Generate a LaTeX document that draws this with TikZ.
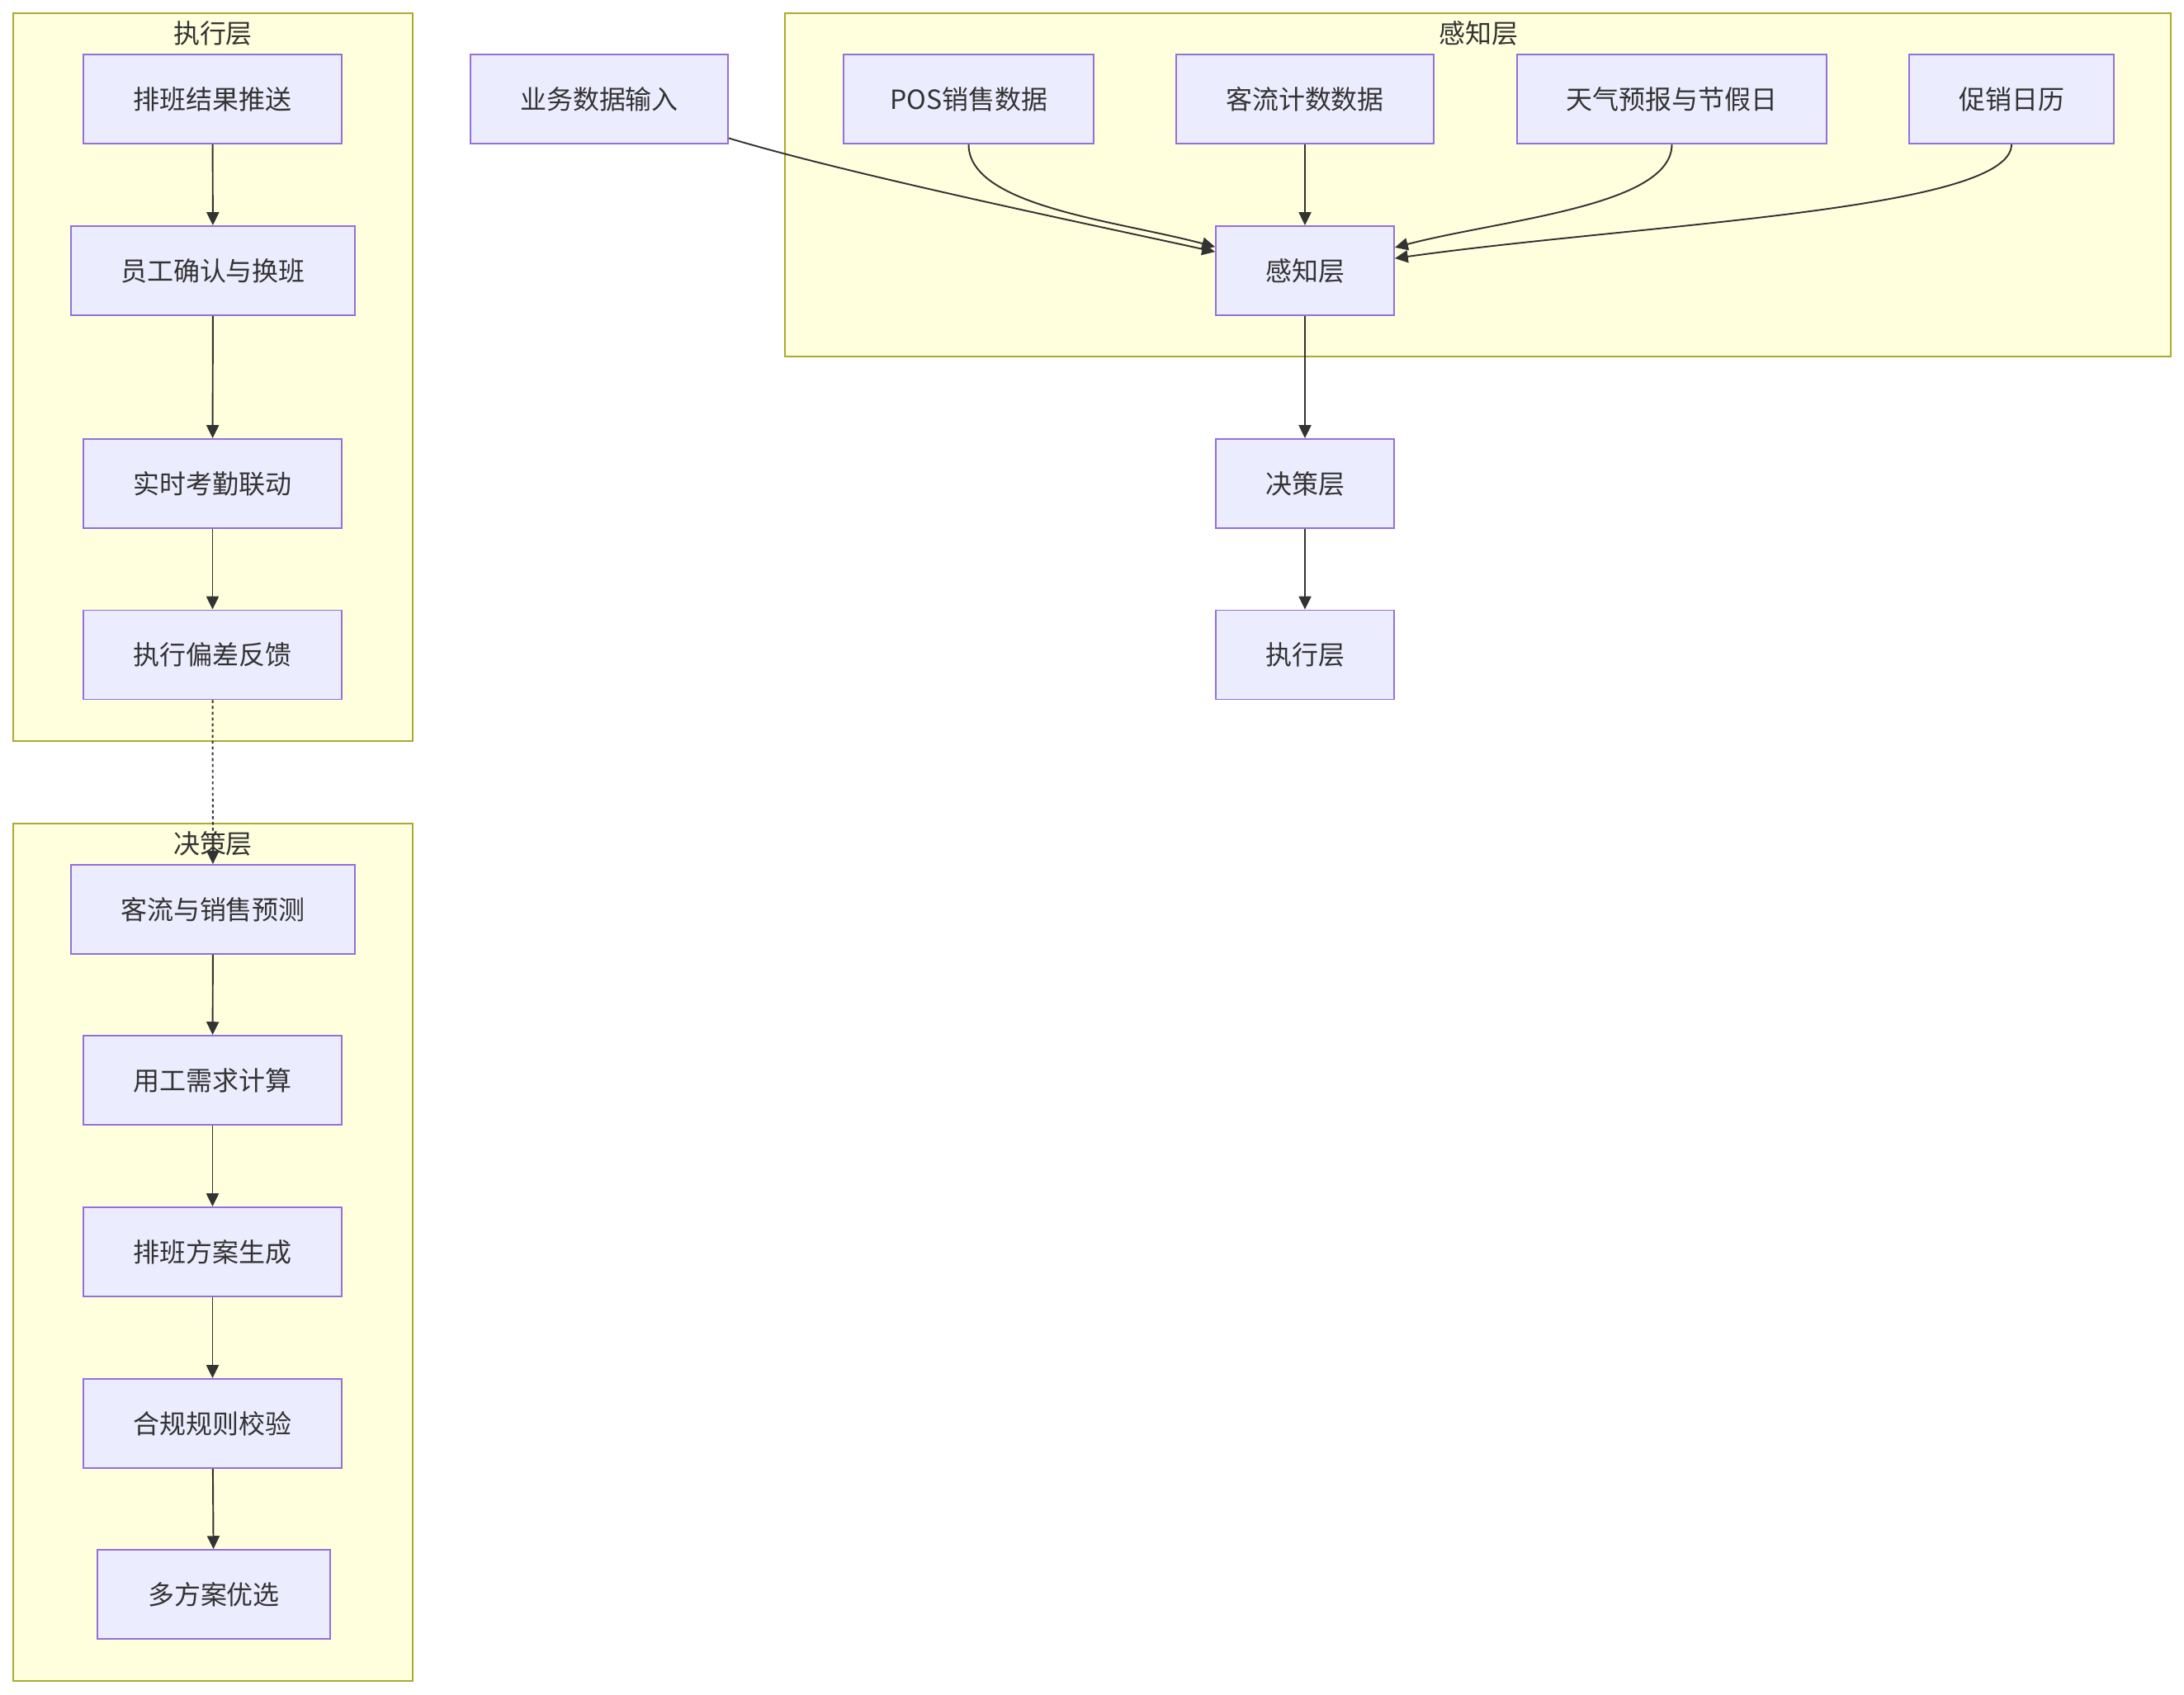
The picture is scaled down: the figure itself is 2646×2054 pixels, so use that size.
\documentclass[tikz,border=0pt]{standalone}
\usepackage{fontspec}
\setmainfont{Noto Sans CJK SC}
\usepackage{tikz}
\usetikzlibrary{positioning,arrows.meta}

\definecolor{nodofill}{HTML}{ECECFF}
\definecolor{nodobordo}{HTML}{9370DB}
\definecolor{gruppofill}{HTML}{FFFFDE}
\definecolor{gruppobordo}{HTML}{AAAA33}
\definecolor{linea}{HTML}{333333}

\begin{document}
\begin{tikzpicture}[
    x=0.02cm, y=-0.02cm,
    >={Triangle[length=9pt,width=8.5pt]},
    font=\fontsize{18.2pt}{22pt}\selectfont,
    text=linea,
    block/.style={draw=nodobordo, fill=nodofill, line width=1.1pt, minimum height=2.16cm, inner sep=0pt},
    cluster/.style={draw=gruppobordo, fill=gruppofill, line width=1.1pt, inner sep=0pt},
    titolo/.style={inner sep=0pt},
    freccia/.style={->, draw=linea, line width=1.1pt}
]

  % sfondo e margini
  \fill[white] (0,0) rectangle (2646,2054);
  \useasboundingbox (0,0) rectangle (2646,2054);

  % gruppi
  \node[cluster, minimum width=9.68cm, minimum height=17.64cm] (esecBox) at (258,457) {};
  \node[cluster, minimum width=9.68cm, minimum height=20.78cm] (decisBox) at (258,1517.5) {};
  \node[cluster, minimum width=33.58cm, minimum height=8.32cm] (percBox) at (1790.5,224) {};
  \node[titolo] (esecTit) at (258,40) {执行层};
  \node[titolo] (decisTit) at (258,1022) {决策层};
  \node[titolo] (percTit) at (1791,40) {感知层};

  % nodi: esecuzione
  \node[block, minimum width=6.26cm] (tuiSong) at (257.5,120) {排班结果推送};
  \node[block, minimum width=6.88cm] (queRen) at (258,328) {员工确认与换班};
  \node[block, minimum width=6.26cm] (kaoQin) at (257.5,586) {实时考勤联动};
  \node[block, minimum width=6.26cm] (pianCha) at (257.5,793.5) {执行偏差反馈};

  % nodi: decisione
  \node[block, minimum width=6.88cm] (yuCe) at (258,1102) {客流与销售预测};
  \node[block, minimum width=6.26cm] (xuQiu) at (257.5,1309) {用工需求计算};
  \node[block, minimum width=6.26cm] (fangAn) at (257.5,1517) {排班方案生成};
  \node[block, minimum width=6.26cm] (heGui) at (257.5,1725) {合规规则校验};
  \node[block, minimum width=5.64cm] (youXuan) at (259,1932) {多方案优选};

  % nodi: percezione
  \node[block, minimum width=6.24cm] (shuRu) at (726,120) {业务数据输入};
  \node[block, minimum width=6.06cm] (pos) at (1173.5,120) {POS销售数据};
  \node[block, minimum width=6.24cm] (keLiu) at (1581,120) {客流计数数据};
  \node[block, minimum width=7.5cm] (tianQi) at (2025.5,120) {天气预报与节假日};
  \node[block, minimum width=4.96cm] (cuXiao) at (2437,120) {促销日历};
  \node[block, minimum width=4.32cm] (ganZhi) at (1581,328) {感知层};
  \node[block, minimum width=4.32cm] (jueCe) at (1581,586) {决策层};
  \node[block, minimum width=4.32cm] (zhiXing) at (1581,793.5) {执行层};

  % frecce colonna sinistra
  \draw[freccia] (tuiSong) -- (queRen);
  \draw[freccia] (queRen) -- (kaoQin);
  \draw[freccia] (kaoQin) -- (pianCha);
  \draw[freccia, dash pattern=on 2pt off 2pt] (pianCha) -- (yuCe);
  \draw[freccia] (yuCe) -- (xuQiu);
  \draw[freccia] (xuQiu) -- (fangAn);
  \draw[freccia] (fangAn) -- (heGui);
  \draw[freccia] (heGui) -- (youXuan);

  % ingressi verso il nodo di percezione
  \draw[freccia] ([yshift=-27pt]shuRu.east) .. controls +(150,45) and +(-150,-33) .. ([yshift=13pt]ganZhi.west);
  \draw[freccia] (pos.south) .. controls +(0,75) and +(-120,-32) .. ([yshift=16.4pt]ganZhi.west);
  \draw[freccia] (keLiu) -- (ganZhi);
  \draw[freccia] (tianQi.south) .. controls +(0,75) and +(130,-34) .. ([yshift=16pt]ganZhi.east);
  \draw[freccia] (cuXiao.south) .. controls +(0,80) and +(300,-42) .. ([yshift=8.5pt]ganZhi.east);

  % colonna centrale
  \draw[freccia] (ganZhi) -- (jueCe);
  \draw[freccia] (jueCe) -- (zhiXing);

\end{tikzpicture}
\end{document}
